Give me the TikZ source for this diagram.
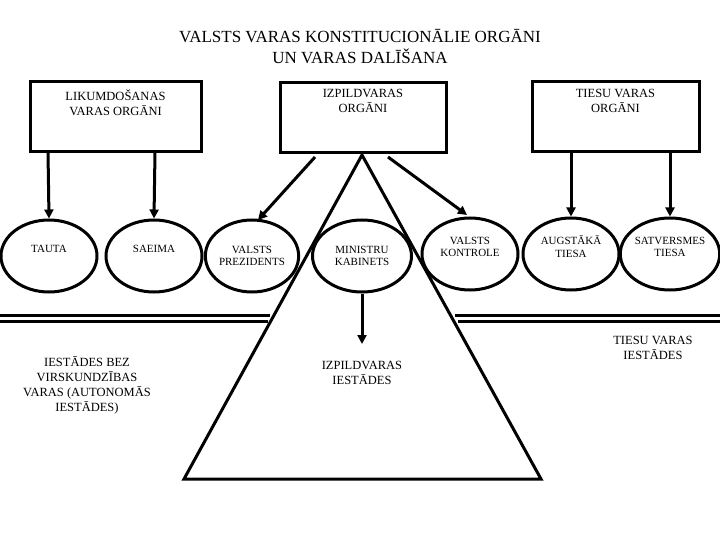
\documentclass[tikz,border=0pt]{standalone}
\usepackage{fontspec}
\setmainfont{Liberation Serif}
\usetikzlibrary{arrows.meta,shapes.geometric}
\begin{document}
\begin{tikzpicture}[x=1pt,y=-1pt,
  box/.style={draw,line width=3pt,minimum width=171pt,minimum height=70pt,align=center,inner sep=0pt},
  ell/.style={draw,ellipse,line width=3pt,minimum width=96pt,minimum height=72pt,align=center,inner sep=0pt,font=\fontsize{11}{12.5}\selectfont},
  arr/.style={line width=3pt,-{Triangle[length=9pt,width=9pt]}},
  lbl/.style={align=center,font=\fontsize{12.5}{15}\selectfont}]
\useasboundingbox (0,0) rectangle (720,540);
\node[align=center,font=\fontsize{17}{21}\selectfont] (title) at (360,47) {VALSTS VARAS KONSTITUCIONĀLIE ORGĀNI\\UN VARAS DALĪŠANA};
\node[box] (L) at (115.5,117) {};
\node[lbl,anchor=north] (Lt) at (115.5,86) {LIKUMDOŠANAS\\VARAS ORGĀNI};
\node[box,minimum width=166pt] (I) at (363,118) {};
\node[lbl,anchor=north] (It) at (363,86) {IZPILDVARAS\\ORGĀNI};
\node[box,minimum width=167pt] (T) at (615.5,117) {};
\node[lbl,anchor=north] (Tt) at (615.5,86) {TIESU VARAS\\ORGĀNI};
\node[ell] (e1) at (49,256) {TAUTA\\[2pt]~};
\node[ell] (e2) at (154,256) {SAEIMA\\[2pt]~};
\node[ell,minimum width=91pt] (e3) at (252,256) {VALSTS\\PREZIDENTS};
\node[ell,minimum width=99pt] (e4) at (362,256) {MINISTRU\\KABINETS};
\node[ell] (e5) at (470,254) {VALSTS\\KONTROLE\\[2pt]~};
\node[ell] (e6) at (571,254) {AUGSTĀKĀ\\TIESA\\[2pt]~};
\node[ell] (e7) at (670,254) {SATVERSMES\\TIESA\\[2pt]~};
\draw[arr] (48,152) -- (e1.north);
\draw[arr] (155,152) -- (e2.north);
\draw[arr] (315,157) -- (258,220);
\draw[arr] (388,157) -- (467,215);
\draw[arr] (571,152) -- (e6.north);
\draw[arr] (670,152) -- (e7.north);
\coordinate (apex) at (362,155);
\coordinate (bl) at (184,479);
\coordinate (br) at (541,479);
\draw[line width=3pt] (apex) -- (bl) -- (br) -- cycle;
\draw[line width=3pt] (0,315) -- (270,315) (0,321) -- (268,321);
\draw[line width=3pt] (455,315) -- (720,315) (458,321) -- (720,321);
\coordinate (ma) at (362,344);
\draw[arr] (e4.south) -- (ma);
\node[lbl] (ii) at (362,373) {IZPILDVARAS\\IESTĀDES};
\node[lbl] (ti) at (653,348) {TIESU VARAS\\IESTĀDES};
\node[lbl] (bez) at (87,385) {IESTĀDES BEZ\\VIRSKUNDZĪBAS\\VARAS (AUTONOMĀS\\IESTĀDES)};
\end{tikzpicture}
\end{document}
